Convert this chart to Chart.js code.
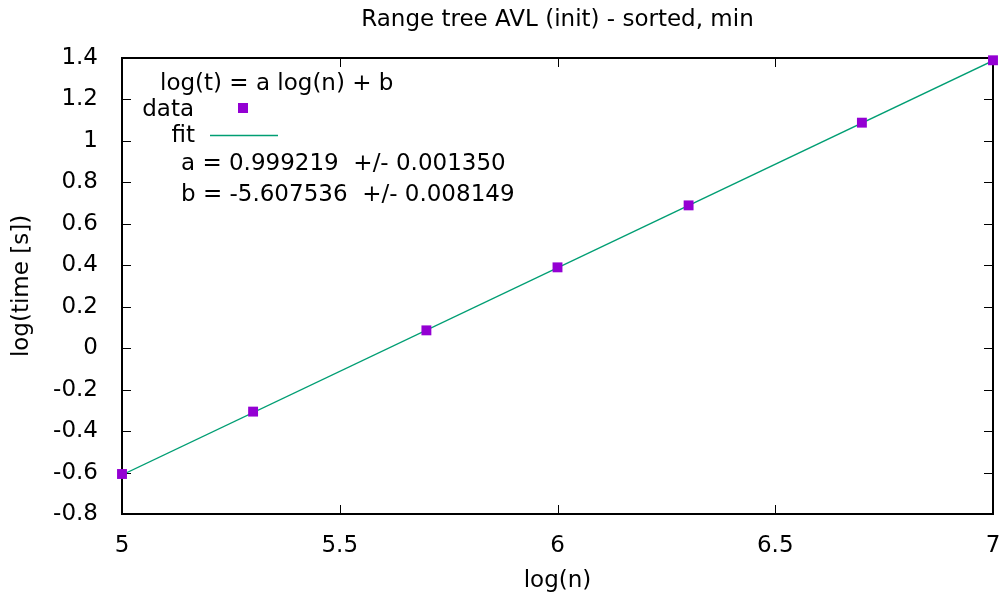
<!DOCTYPE html>
<html>
<head>
<meta charset="utf-8">
<script src="https://cdn.jsdelivr.net/npm/chart.js@4/dist/chart.umd.min.js"></script>
<style>
  html, body { margin: 0; padding: 0; background: #fff; }
  #wrap { width: 1003px; height: 599px; }
</style>
</head>
<body>
<div id="wrap"><canvas id="chart" width="1003" height="599"></canvas></div>
<script>
// measured log(n) / log(time) points
const logN = [5, 5.30103, 5.69897, 6, 6.30103, 6.69897, 7];
const logT = [-0.607, -0.306, 0.086, 0.390, 0.689, 1.088, 1.389];

// fitted line end points: a = 0.999219, b = -5.607536
const fitX = [5, 7];
const fitY = [-0.611441, 1.386997];

const titleText = "Range tree AVL (init) - sorted, min";
const keyLines = [
  "log(t) = a log(n) + b",
  "a = 0.999219  +/- 0.001350",
  "b = -5.607536  +/- 0.008149"
];

const FONT = "DejaVu Sans";
const FS = 23;
const dataColor = "#9400d3";
const fitColor = "#009e73";

// gnuplot-like frame with inward, mirrored ticks, title and key
const framePlugin = {
  id: "frame",
  beforeDatasetsDraw(chart) {
    const ctx = chart.ctx;
    const a = chart.chartArea;
    const xs = chart.scales.x, ys = chart.scales.y;
    ctx.save();
    ctx.strokeStyle = "#000";
    ctx.lineWidth = 1;
    xs.ticks.forEach(t => {
      const px = Math.round(xs.getPixelForValue(t.value)) + 0.5;
      ctx.beginPath();
      ctx.moveTo(px, a.bottom); ctx.lineTo(px, a.bottom - 9);
      ctx.moveTo(px, a.top); ctx.lineTo(px, a.top + 9);
      ctx.stroke();
    });
    ys.ticks.forEach(t => {
      const py = Math.round(ys.getPixelForValue(t.value)) + 0.5;
      ctx.beginPath();
      ctx.moveTo(a.left, py); ctx.lineTo(a.left + 9, py);
      ctx.moveTo(a.right, py); ctx.lineTo(a.right - 9, py);
      ctx.stroke();
    });
    ctx.lineWidth = 2;
    ctx.strokeRect(a.left, a.top, a.right - a.left, a.bottom - a.top);
    ctx.restore();
  },
  afterDraw(chart) {
    const ctx = chart.ctx;
    const a = chart.chartArea;
    ctx.save();
    ctx.fillStyle = "#000";
    ctx.font = FS + "px '" + FONT + "'";
    ctx.textAlign = "center";
    ctx.textBaseline = "middle";
    ctx.fillText(titleText, (a.left + a.right) / 2, 20);

    // key
    ctx.textAlign = "left";
    ctx.fillText(keyLines[0], a.left + 38, a.top + 26);
    ctx.textAlign = "right";
    ctx.fillText("data", a.left + 72, a.top + 52);
    ctx.fillText("fit", a.left + 73, a.top + 78);
    ctx.textAlign = "left";
    ctx.fillText(keyLines[1], a.left + 59, a.top + 106);
    ctx.fillText(keyLines[2], a.left + 59, a.top + 137);

    ctx.fillStyle = dataColor;
    ctx.fillRect(a.left + 116, a.top + 45, 10, 10);
    ctx.strokeStyle = fitColor;
    ctx.lineWidth = 1.3;
    ctx.beginPath();
    ctx.moveTo(a.left + 88, a.top + 77.5);
    ctx.lineTo(a.left + 156, a.top + 77.5);
    ctx.stroke();
    ctx.restore();
  }
};

new Chart(document.getElementById("chart"), {
  type: "scatter",
  data: {
    datasets: [
      {
        label: "fit",
        data: fitX.map((x, i) => ({ x: x, y: fitY[i] })),
        showLine: true,
        borderColor: fitColor,
        borderWidth: 1.3,
        pointRadius: 0,
        order: 2
      },
      {
        label: "data",
        data: logN.map((x, i) => ({ x: x, y: logT[i] })),
        pointStyle: "rect",
        pointRadius: 7,
        pointBackgroundColor: dataColor,
        pointBorderColor: dataColor,
        pointBorderWidth: 0,
        clip: false,
        order: 1
      }
    ]
  },
  options: {
    responsive: false,
    animation: false,
    layout: { padding: { top: 58, right: 10, left: 0, bottom: 0 } },
    plugins: {
      legend: { display: false },
      title: { display: false },
      tooltip: { enabled: false }
    },
    scales: {
      x: {
        type: "linear",
        min: 5,
        max: 7,
        grid: { display: false },
        border: { display: false },
        ticks: {
          stepSize: 0.5,
          padding: 10,
          color: "#000",
          font: { family: FONT, size: FS },
          maxRotation: 0,
          callback: v => String(Number(v.toFixed(1)))
        },
        title: {
          display: true,
          text: "log(n)",
          color: "#000",
          font: { family: FONT, size: FS },
          padding: { top: 14, bottom: 4 }
        },
        afterFit: s => {
          s.height = 85;
          s.paddingLeft = 0;
          s.paddingRight = 0;
        }
      },
      y: {
        type: "linear",
        min: -0.8,
        max: 1.4,
        grid: { display: false },
        border: { display: false },
        ticks: {
          stepSize: 0.2,
          padding: 16,
          color: "#000",
          font: { family: FONT, size: FS },
          callback: v => String(Number(v.toFixed(1)))
        },
        title: {
          display: true,
          text: "log(time [s])",
          color: "#000",
          font: { family: FONT, size: FS },
          padding: { bottom: 0, top: 8 }
        },
        afterFit: s => {
          s.width = 122;
          s.paddingTop = 0;
          s.paddingBottom = 0;
        }
      }
    }
  },
  plugins: [framePlugin]
});
</script>
</body>
</html>
